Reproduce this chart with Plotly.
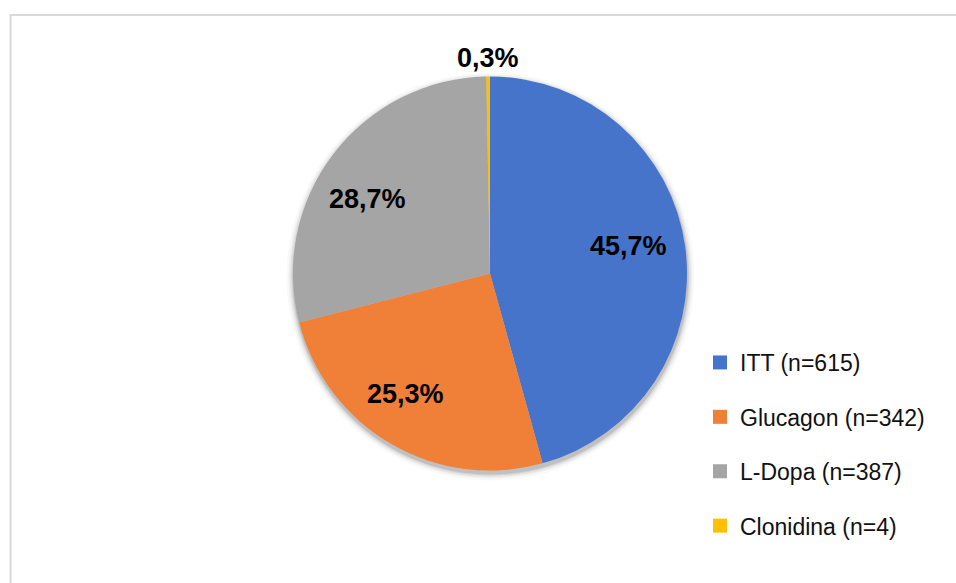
import math
import plotly.graph_objects as go

# Share of tests by stimulation protocol
categories = ["ITT (n=615)", "Glucagon (n=342)", "L-Dopa (n=387)", "Clonidina (n=4)"]
percentages = [45.7, 25.3, 28.7, 0.3]
colors = ["#4774CB", "#F07F38", "#A5A5A5", "#FFC000"]

# Placement of the percentage labels: radial factor and angular nudge (deg)
label_radius = [0.715, 0.75, 0.73, 1.094]
label_nudge = [-3.6, 5.0, -6.0, 0.0]

W, H = 956, 583
CX, CY, R = 490.0, 273.5, 197.0


def px(x, y):
    return x / W, 1 - y / H


def disc_domain(cx, cy, r):
    x0, y1 = px(cx - r, cy - r)
    x1, y0 = px(cx + r, cy + r)
    return dict(x=[x0, x1], y=[y0, y1])


fig = go.Figure()

# soft drop shadow under the pie
for i, (grow, alpha) in enumerate([(7, 0.025), (5, 0.035), (3.5, 0.05), (2, 0.07), (1, 0.09)]):
    fig.add_trace(go.Pie(
        values=[1], labels=[f"s{i}"], domain=disc_domain(CX + 0.5, CY + 3, R + grow),
        marker=dict(colors=[f"rgba(0,0,0,{alpha})"], line=dict(width=0)),
        textinfo="none", hoverinfo="skip", showlegend=False, sort=False,
    ))

fig.add_trace(go.Pie(
    labels=categories, values=percentages,
    domain=disc_domain(CX, CY, R),
    marker=dict(colors=colors, line=dict(width=0)),
    sort=False, direction="clockwise", rotation=0,
    textinfo="none", hoverinfo="label+percent", showlegend=False,
))

# percentage labels placed along each slice bisector
total = sum(percentages)
cum = 0.0
for v, rf, nudge in zip(percentages, label_radius, label_nudge):
    mid = (cum + v / 2) / total * 360 + nudge
    cum += v
    a = math.radians(mid)
    lx = CX + rf * R * math.sin(a)
    ly = CY - rf * R * math.cos(a)
    xp, yp = px(lx, ly)
    fig.add_annotation(
        x=xp, y=yp, xref="paper", yref="paper", showarrow=False,
        text=f"{v:.1f}".replace(".", ",") + "%",
        font=dict(family="Liberation Sans, Arial, sans-serif", size=27, color="#000000", weight="bold"),
        xanchor="center", yanchor="middle",
    )

# legend entries
for i, (name, col) in enumerate(zip(categories, colors)):
    fig.add_trace(go.Scatter(
        x=[None], y=[None], mode="markers", name=name, legendgroup=f"g{i}",
        marker=dict(symbol="square", size=14, color=col, line=dict(width=0)),
        hoverinfo="skip",
    ))

lx0, ly0 = px(700, 341)
fig.update_layout(
    width=W, height=H,
    margin=dict(l=0, r=0, t=0, b=0),
    paper_bgcolor="white", plot_bgcolor="white",
    xaxis=dict(visible=False), yaxis=dict(visible=False),
    showlegend=True,
    legend=dict(
        x=lx0, y=ly0, xanchor="left", yanchor="top",
        font=dict(family="Liberation Sans, Arial, sans-serif", size=23, color="#111111"),
        tracegroupgap=21.5, itemsizing="trace", bgcolor="rgba(0,0,0,0)",
    ),
    shapes=[dict(
        type="rect", xref="paper", yref="paper",
        x0=10.5 / W, x1=970 / W, y0=1 - 600 / H, y1=1 - 15 / H,
        line=dict(color="#D9D9D9", width=2), fillcolor="rgba(0,0,0,0)", layer="below",
    )],
)

fig.write_html("out.html")
